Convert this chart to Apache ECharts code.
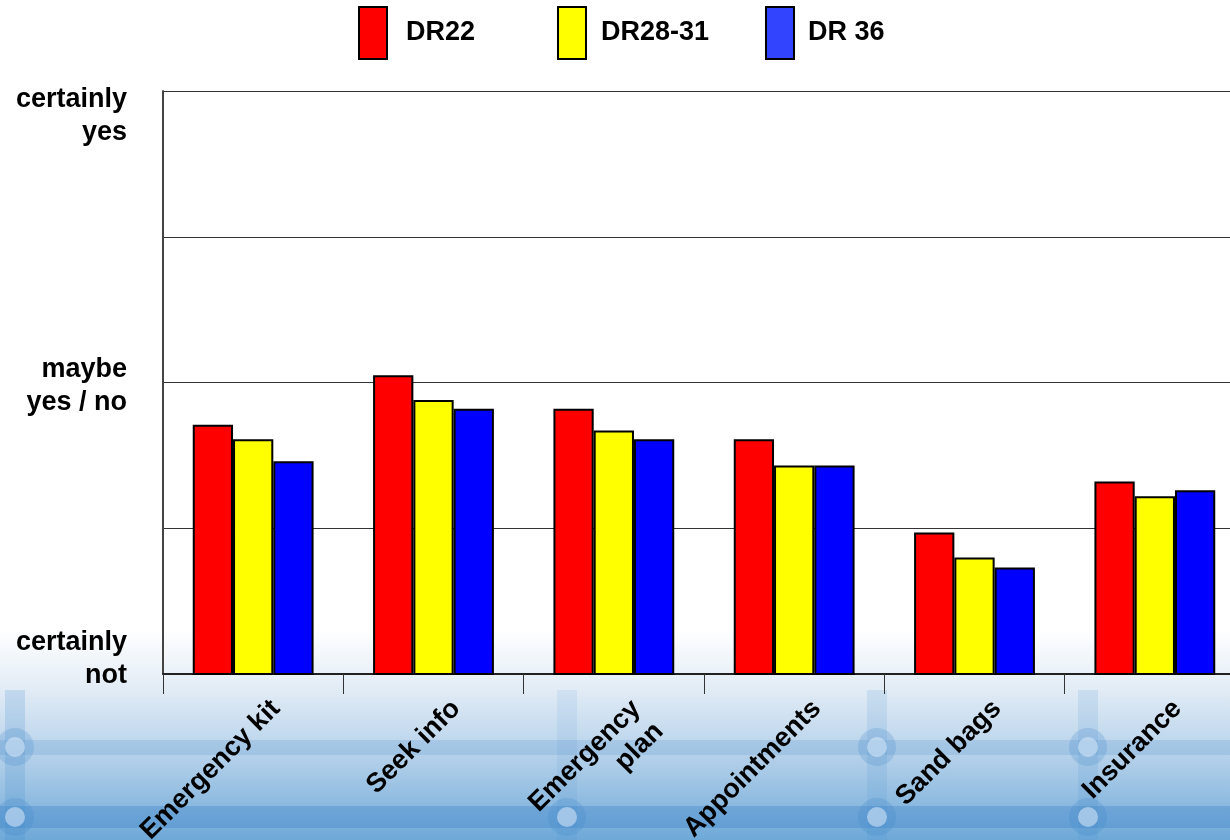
<!DOCTYPE html>
<html>
<head>
<meta charset="utf-8">
<script src="https://cdn.jsdelivr.net/npm/echarts@6/dist/echarts.min.js"></script>
<style>
html,body{margin:0;padding:0;background:#fff;}
#chart{width:1230px;height:840px;}
</style>
</head>
<body>
<div id="chart"></div>
<script>
const categories = ['Emergency kit', 'Seek info', 'Emergency\nplan', 'Appointments', 'Sand bags', 'Insurance'];
const seriesNames = ['DR22', 'DR28-31', 'DR 36'];
const dr22 = [2.71, 3.05, 2.82, 2.61, 1.97, 2.32];
const dr2831 = [2.61, 2.88, 2.67, 2.43, 1.80, 2.22];
const dr36 = [2.46, 2.82, 2.61, 2.43, 1.73, 2.26];
const yTickLabels = {1: 'certainly\nnot', 3: 'maybe\nyes / no', 5: 'certainly\nyes'};

const FONT = '"Liberation Sans", Arial, sans-serif';
const chart = echarts.init(document.getElementById('chart'), null, {renderer: 'canvas'});

const deco = [];
// horizontal pipes
deco.push({type: 'rect', shape: {x: 0, y: 740, width: 1230, height: 15}, style: {fill: 'rgba(80,145,205,0.22)'}, z: -10, silent: true});
deco.push({type: 'rect', shape: {x: 0, y: 806, width: 1230, height: 22}, style: {fill: 'rgba(60,130,200,0.35)'}, z: -10, silent: true});
// vertical pipes
[[15, 0.2], [877, 0.14], [1088, 0.14], [567, 0.1]].forEach(p => {
  deco.push({type: 'rect', shape: {x: p[0] - 10, y: 690, width: 20, height: 150}, style: {fill: 'rgba(70,140,205,' + p[1] + ')'}, z: -10, silent: true});
});
// joints
[[15, 747], [15, 817], [567, 817], [877, 747], [877, 817], [1088, 747], [1088, 817]].forEach(p => {
  deco.push({type: 'circle', shape: {cx: p[0], cy: p[1], r: 19}, style: {fill: 'rgba(60,130,200,0.22)'}, z: -9, silent: true});
  deco.push({type: 'circle', shape: {cx: p[0], cy: p[1], r: 10}, style: {fill: 'rgba(220,235,250,0.55)'}, z: -8, silent: true});
});

const txt = {color: '#000', fontFamily: FONT, fontWeight: 'bold', fontSize: 27, lineHeight: 33, align: 'right'};
// spacer line heights put each label where the reference has it
const spacerBefore = {5: 50, 3: 8, 1: 0};
const spacerAfter = {5: 0, 3: 0, 1: 30};

function yAxisFor(val, show) {
  return {
    type: 'value', min: 1, max: 5, interval: 1, position: 'left',
    axisLine: {show: show, lineStyle: {color: '#444', width: 2}},
    axisTick: {show: false},
    splitLine: {show: show, lineStyle: {color: '#333', width: 1}},
    axisLabel: {
      margin: 36, verticalAlign: 'middle', align: 'right',
      formatter: v => {
        if (v !== val) return '';
        const lines = yTickLabels[v].split('\n').map(s => '{t|' + s + '}');
        if (spacerBefore[v]) lines.unshift('{s' + v + 'b| }');
        if (spacerAfter[v]) lines.push('{s' + v + 'a| }');
        return lines.join('\n');
      },
      rich: {
        t: txt,
        s5b: {fontSize: 2, lineHeight: spacerBefore[5]},
        s3b: {fontSize: 2, lineHeight: spacerBefore[3]},
        s1a: {fontSize: 2, lineHeight: spacerAfter[1]}
      }
    }
  };
}

function mkSeries(name, data, color) {
  return {
    name: name, type: 'bar', data: data, yAxisIndex: 0,
    barGap: '0%', barCategoryGap: '33%',
    itemStyle: {color: color, borderColor: '#000', borderWidth: 2},
    emphasis: {disabled: true}
  };
}

function legendFor(name, left, color, textGap) {
  return {
    data: [{name: name, itemStyle: {color: color, borderColor: '#000', borderWidth: 2}}],
    left: left, top: 6, padding: 0,
    itemWidth: 28, itemHeight: 52, icon: 'rect',
    textStyle: {color: '#000', fontFamily: FONT, fontWeight: 'bold', fontSize: 27, padding: [0, 0, 0, textGap]}
  };
}

const option = {
  backgroundColor: {
    type: 'linear', x: 0, y: 0, x2: 0, y2: 1,
    colorStops: [
      {offset: 0, color: '#ffffff'},
      {offset: 0.75, color: '#ffffff'},
      {offset: 0.82, color: '#e2ecf6'},
      {offset: 0.9, color: '#b5d1ea'},
      {offset: 1, color: '#6ea9d8'}
    ]
  },
  animation: false,
  graphic: deco,
  legend: [
    legendFor('DR22', 358, '#ff0000', 14),
    legendFor('DR28-31', 557, '#ffff00', 10),
    legendFor('DR 36', 765, '#3344ff', 9)
  ],
  grid: {left: 163, top: 91, width: 1082, height: 583, containLabel: false, outerBoundsMode: 'none'},
  xAxis: {
    type: 'category', data: categories,
    axisLine: {lineStyle: {color: '#222', width: 2}},
    axisTick: {show: true, length: 20, interval: 0, lineStyle: {color: '#333', width: 1}},
    axisLabel: {
      interval: 0, rotate: 45, margin: 8, align: 'right', verticalAlign: 'top', padding: [16, 0, 0, 0],
      color: '#000', fontFamily: FONT, fontWeight: 'bold', fontSize: 27, lineHeight: 32
    }
  },
  yAxis: [
    yAxisFor(3, true),
    yAxisFor(5, false),
    yAxisFor(1, false)
  ],
  series: [
    mkSeries(seriesNames[0], dr22, '#ff0000'),
    mkSeries(seriesNames[1], dr2831, '#ffff00'),
    mkSeries(seriesNames[2], dr36, '#0000ff')
  ]
};
chart.setOption(option);
</script>
</body>
</html>
